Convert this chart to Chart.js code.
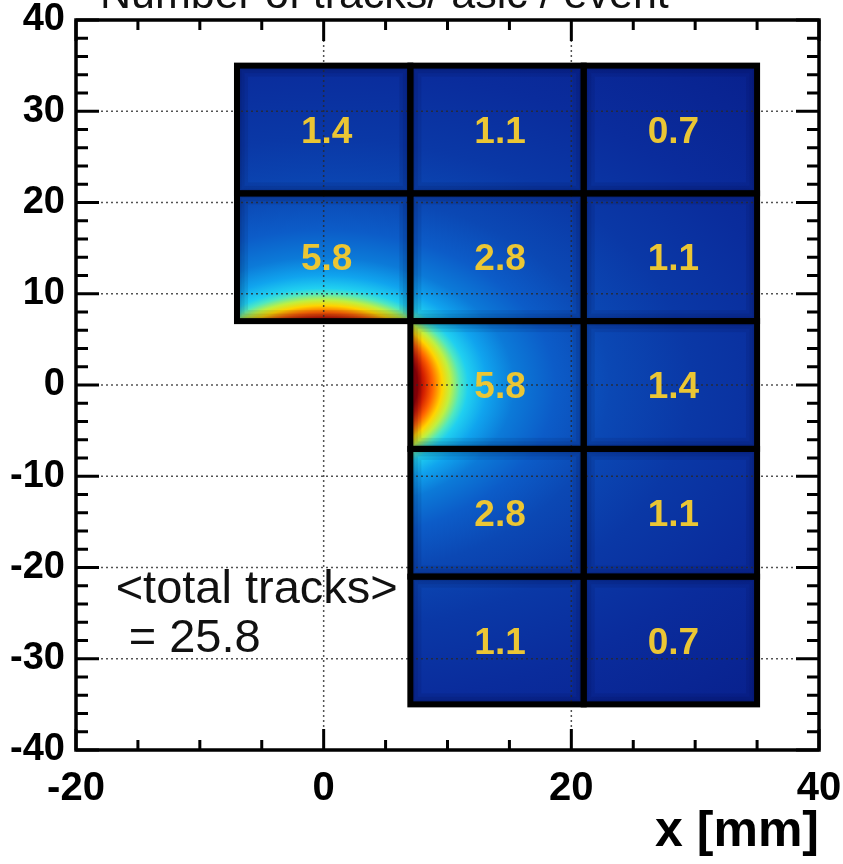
<!DOCTYPE html>
<html>
<head>
<meta charset="utf-8">
<script src="https://cdn.jsdelivr.net/npm/chart.js@4.4.1/dist/chart.umd.min.js"></script>
<style>
  html, body { margin: 0; padding: 0; background: #fff; }
  #wrap { width: 843px; height: 864px; }
</style>
</head>
<body>
<div id="wrap"><canvas id="tracksChart"></canvas></div>
<script>
// tile layout (mm) and mean tracks per asic per event
const xEdges = [-7, 7, 21, 35];
const yEdges = [35, 21, 7, -7, -21, -35];
const cellCol = [0, 1, 2, 0, 1, 2, 1, 2, 1, 2, 1, 2];
const cellRow = [0, 0, 0, 1, 1, 1, 2, 2, 3, 3, 4, 4];
const cellValues = [1.4, 1.1, 0.7, 5.8, 2.8, 1.1, 5.8, 1.4, 2.8, 1.1, 1.1, 0.7];
const xTicks = [-20, 0, 20, 40];
const yTicks = [-40, -30, -20, -10, 0, 10, 20, 30, 40];
const titleText = 'Number of tracks/ asic / event';
const noteLines = ['<total tracks>', ' = 25.8'];

const FONT = "'Liberation Sans', Arial, Helvetica, sans-serif";
const noteAnchor = { x: -16.8, y: -23.9 };

// colour ramp of the beam spot (radius in mm -> colour)
const heatStops = [
  [0, '#6e0000'], [6.9, '#9a0000'], [7.4, '#d42000'], [8.0, '#ff6400'],
  [8.7, '#ffd400'], [9.3, '#c0f040'], [10.0, '#50e8c0'], [10.6, '#20d0f0'],
  [12, '#10a4ee'], [14, '#0c7ad8'], [17, '#0c5cc8'], [21, '#0b48b4'],
  [27, '#0a38a6'], [35, '#0a2c9c'], [50, '#081e8a']
];

function cellRect(chart, i) {
  const x = chart.scales.x, y = chart.scales.y;
  const c = cellCol[i], r = cellRow[i];
  const l = x.getPixelForValue(xEdges[c]);
  const rr = x.getPixelForValue(xEdges[c + 1]);
  const t = y.getPixelForValue(yEdges[r]);
  const b = y.getPixelForValue(yEdges[r + 1]);
  return { l: l, t: t, w: rr - l, h: b - t };
}

const tilesPlugin = {
  id: 'tiles',
  beforeDraw(chart) {
    const ctx = chart.ctx, x = chart.scales.x, y = chart.scales.y, a = chart.chartArea;
    const cx = x.getPixelForValue(0), cy = y.getPixelForValue(0);
    const sx = (x.getPixelForValue(1) - cx) * 1.1;
    const sy = cy - y.getPixelForValue(1);
    const R = heatStops[heatStops.length - 1][0];

    cellValues.forEach((v, i) => {
      const rc = cellRect(chart, i);
      ctx.save();
      ctx.beginPath();
      ctx.rect(rc.l, rc.t, rc.w, rc.h);
      ctx.clip();
      ctx.save();
      ctx.translate(cx, cy);
      ctx.scale(sx, sy);
      const g = ctx.createRadialGradient(0, 0, 0, 0, 0, R);
      heatStops.forEach(s => g.addColorStop(s[0] / R, s[1]));
      ctx.fillStyle = g;
      ctx.fillRect(-R * 2, -R * 2, R * 4, R * 4);
      ctx.restore();
      // soft darker rim along the tile edges
      ctx.strokeStyle = 'rgba(0,0,40,0.09)';
      [22, 15, 9].forEach(w => {
        ctx.lineWidth = w;
        ctx.strokeRect(rc.l, rc.t, rc.w, rc.h);
      });
      ctx.restore();
    });

    // dotted grid at the labelled ticks
    ctx.save();
    ctx.strokeStyle = 'rgba(40,40,40,0.8)';
    ctx.lineWidth = 1.5;
    ctx.setLineDash([2, 3]);
    ctx.beginPath();
    xTicks.slice(1, -1).forEach(v => {
      const px = x.getPixelForValue(v);
      ctx.moveTo(px, a.top); ctx.lineTo(px, a.bottom);
    });
    yTicks.slice(1, -1).forEach(v => {
      const py = y.getPixelForValue(v);
      ctx.moveTo(a.left, py); ctx.lineTo(a.right, py);
    });
    ctx.stroke();
    ctx.restore();
  },
  afterDraw(chart) {
    const ctx = chart.ctx, x = chart.scales.x, y = chart.scales.y, a = chart.chartArea;

    // tile borders
    ctx.save();
    ctx.strokeStyle = '#000';
    ctx.lineWidth = 6;
    cellValues.forEach((v, i) => {
      const rc = cellRect(chart, i);
      ctx.strokeRect(rc.l, rc.t, rc.w, rc.h);
    });
    ctx.restore();

    // values at the tile centres
    const pts = chart.getDatasetMeta(0).data;
    ctx.save();
    ctx.fillStyle = '#EBC634';
    ctx.font = 'bold 37px ' + FONT;
    ctx.textAlign = 'center';
    ctx.textBaseline = 'middle';
    pts.forEach((p, i) => ctx.fillText(cellValues[i].toFixed(1), p.x + 3, p.y + 3));
    ctx.restore();

    // frame and inward ticks
    ctx.save();
    ctx.strokeStyle = '#000';
    ctx.lineWidth = 3;
    ctx.beginPath();
    for (let v = x.min; v <= x.max + 1e-9; v += 5) {
      const px = x.getPixelForValue(v);
      const len = (v % 20 === 0) ? 21 : 10;
      ctx.moveTo(px, a.bottom); ctx.lineTo(px, a.bottom - len);
      ctx.moveTo(px, a.top); ctx.lineTo(px, a.top + len);
    }
    for (let v = y.min; v <= y.max + 1e-9; v += 2) {
      const py = y.getPixelForValue(v);
      const len = (Math.abs(v) % 10 === 0) ? 23 : 12;
      ctx.moveTo(a.left, py); ctx.lineTo(a.left + len, py);
      ctx.moveTo(a.right, py); ctx.lineTo(a.right - len, py);
    }
    ctx.stroke();
    ctx.lineWidth = 3.5;
    ctx.strokeRect(a.left, a.top, a.right - a.left, a.bottom - a.top);
    ctx.restore();

    // total tracks note
    ctx.save();
    ctx.fillStyle = '#111';
    ctx.font = '47px ' + FONT;
    ctx.textAlign = 'left';
    ctx.textBaseline = 'alphabetic';
    const nx = x.getPixelForValue(noteAnchor.x), ny = y.getPixelForValue(noteAnchor.y);
    noteLines.forEach((s, i) => ctx.fillText(s, nx, ny + i * 49));
    ctx.restore();

    // title, mostly cut off at the top edge
    ctx.save();
    ctx.fillStyle = '#111';
    ctx.font = '43px ' + FONT;
    ctx.textAlign = 'left';
    ctx.textBaseline = 'alphabetic';
    ctx.fillText(titleText, 100, 8);
    ctx.restore();
  }
};

const centers = cellValues.map((v, i) => ({
  x: (xEdges[cellCol[i]] + xEdges[cellCol[i] + 1]) / 2,
  y: (yEdges[cellRow[i]] + yEdges[cellRow[i] + 1]) / 2
}));

const ctx = document.getElementById('tracksChart').getContext('2d');
const tracksChart = new Chart(ctx, {
  type: 'scatter',
  data: {
    datasets: [{
      label: 'tracks / asic / event',
      data: centers,
      pointRadius: 0,
      pointHoverRadius: 0
    }]
  },
  options: {
    responsive: true,
    maintainAspectRatio: false,
    animation: false,
    devicePixelRatio: 1,
    layout: { padding: { top: 20, right: 24, left: 0, bottom: 0 } },
    plugins: { legend: { display: false }, tooltip: { enabled: false } },
    scales: {
      x: {
        type: 'linear',
        min: -20,
        max: 40,
        afterBuildTicks: s => { s.ticks = xTicks.map(v => ({ value: v })); },
        afterFit: s => { s.height = 114; s.paddingLeft = 0; s.paddingRight = 0; },
        grid: { display: false, drawTicks: false },
        border: { display: false },
        ticks: {
          autoSkip: false,
          maxRotation: 0,
          padding: 19,
          color: '#000',
          font: { family: FONT, size: 40, weight: 'bold', lineHeight: 1 }
        },
        title: {
          display: true,
          text: 'x [mm]',
          align: 'end',
          color: '#000',
          padding: { top: 0, bottom: 2 },
          font: { family: FONT, size: 50, weight: 'bold', lineHeight: 1.2 }
        }
      },
      y: {
        type: 'linear',
        min: -40,
        max: 40,
        afterBuildTicks: s => { s.ticks = yTicks.map(v => ({ value: v })); },
        afterFit: s => { s.width = 76; s.paddingTop = 0; s.paddingBottom = 0; },
        grid: { display: false, drawTicks: false },
        border: { display: false },
        ticks: {
          autoSkip: false,
          padding: 11,
          color: '#000',
          font: { family: FONT, size: 38, weight: 'bold', lineHeight: 1 }
        }
      }
    }
  },
  plugins: [tilesPlugin]
});
</script>
</body>
</html>
